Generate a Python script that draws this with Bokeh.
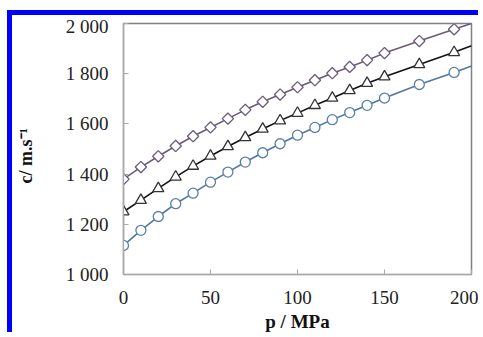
import math
from bokeh.plotting import figure
from bokeh.models import FixedTicker, Range1d
from bokeh.embed import file_html
from bokeh.resources import INLINE

# pressures (MPa) of the measured points
p_points = [0, 10, 20, 30, 40, 50, 60, 70, 80, 90, 100, 110, 120, 130, 140, 150, 170, 190]
# speed of sound (m/s), three series
c_diamond = [1380, 1428, 1471, 1512, 1551, 1586, 1621, 1656, 1688, 1717, 1746, 1774, 1802, 1827, 1854, 1882, 1930, 1977]
c_triangle = [1250, 1296, 1343, 1389, 1432, 1472, 1510, 1546, 1580, 1613, 1643, 1674, 1703, 1733, 1762, 1788, 1837, 1885]
c_circle = [1116, 1176, 1231, 1282, 1324, 1368, 1408, 1448, 1485, 1521, 1555, 1586, 1617, 1645, 1674, 1703, 1757, 1805]
# end of fitted curves at p = 200 MPa
p_end = 200
c_diamond_end = 2000
c_triangle_end = 1911
c_circle_end = 1831

x_ticks = [0, 50, 100, 150, 200]
y_ticks = [1000, 1200, 1400, 1600, 1800, 2000]
y_tick_labels = ["1 000", "1 200", "1 400", "1 600", "1 800", "2 000"]

FONT = "Liberation Serif"

p = figure(width=471, height=322, output_backend="svg", toolbar_location=None,
           x_range=Range1d(0, 200), y_range=Range1d(1000, 2000),
           min_border_left=105, min_border_right=12, min_border_top=8, min_border_bottom=63,
           styles={"border-top": "5px solid #0000ff", "border-left": "5px solid #0000ff",
                   "margin-top": "10px", "margin-left": "7px"})
p.grid.visible = False
p.background_fill_color = "white"
p.border_fill_color = "white"
p.outline_line_color = "#808080"
p.outline_line_width = 1.5

for ax in (p.xaxis[0], p.yaxis[0]):
    ax.axis_line_color = "#a8a8a8"
    ax.axis_line_width = 1.2
    ax.major_tick_line_color = "#a8a8a8"
    ax.major_tick_in = 5
    ax.major_tick_out = 0
    ax.minor_tick_line_color = None
    ax.major_label_text_font = FONT
    ax.major_label_text_font_size = "19px"
    ax.major_label_text_color = "#222222"
    ax.axis_label_text_font = FONT
    ax.axis_label_text_font_style = "bold"
    ax.axis_label_text_color = "#111111"

p.xaxis.ticker = FixedTicker(ticks=x_ticks)
p.xaxis.major_label_standoff = 16
p.xaxis.axis_label = "p / MPa"
p.xaxis.axis_label_text_font_size = "19px"
p.xaxis.axis_label_standoff = 4

p.yaxis.ticker = FixedTicker(ticks=y_ticks)
p.yaxis.major_label_overrides = {t: l for t, l in zip(y_ticks, y_tick_labels)}
p.yaxis.major_label_standoff = 15
p.yaxis.axis_label = "c/ m.s\u207b\u00b9\u00a0\u00a0\u00a0"
p.yaxis.axis_label_text_font_size = "18px"
p.yaxis.axis_label_standoff = 27

line_p = p_points + [p_end]
series = [
    (c_diamond + [c_diamond_end], c_diamond, "#6b5b7b", "#6b5b7b", "square", 8, math.pi / 4),
    (c_triangle + [c_triangle_end], c_triangle, "#111111", "#333333", "triangle", 11, 0),
    (c_circle + [c_circle_end], c_circle, "#4f77a3", "#5a7fa8", "circle", 10, 0),
]
for line_c, pts_c, lc, mc, marker, size, ang in series:
    p.line(line_p, line_c, line_color=lc, line_width=1.6)
    p.scatter(p_points, pts_c, marker=marker, size=size, angle=ang,
              fill_color="white", line_color=mc, line_width=1.3)

open("out.html", "w").write(file_html(p, INLINE))
